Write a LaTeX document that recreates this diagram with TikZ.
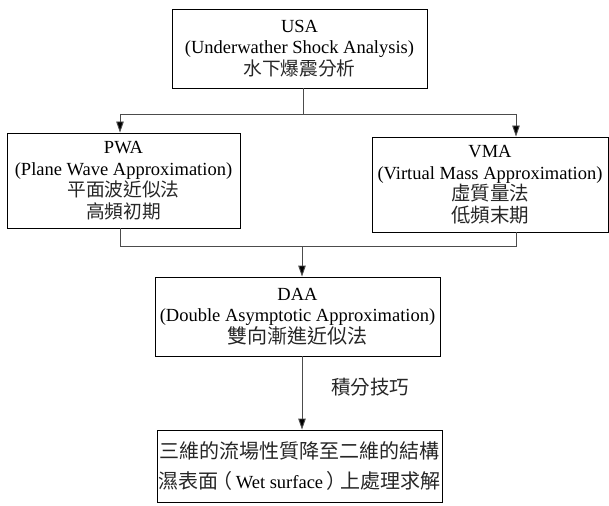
\documentclass[tikz,border=0pt]{standalone}
\usepackage{fontspec}
\setmainfont{Liberation Serif}
\newfontfamily\cjk{Noto Sans CJK TC}
\usetikzlibrary{arrows.meta}
\tikzset{
  box/.style={draw=black, line width=0.9pt, align=center, inner sep=0pt,
    font=\fontsize{18.5}{21.5}\selectfont},
  link/.style={draw=black!70, line width=0.9pt},
  arr/.style={link, -{Triangle[length=11pt, width=7.5pt, fill=black]}},
  note/.style={font=\fontsize{18.5}{21.5}\selectfont}
}
% Chinese text, optionally at a given size
\newcommand{\zh}[2][19]{{\cjk\fontsize{#1}{21.5}\selectfont\color{black!85}#2}}
\begin{document}
\begin{tikzpicture}[x=1pt, y=-1pt]
  \useasboundingbox (0,0) rectangle (609,505);

  % boxes
  \node[box, minimum width=255pt, minimum height=79pt] (usa) at (299.5,48.5)
    {USA\\(Underwather Shock Analysis)\\\zh[18.7]{水下爆震分析}};
  \node[box, minimum width=233pt, minimum height=95pt] (pwa) at (123.5,180.5)
    {PWA\\(Plane Wave Approximation)\\\zh[18.7]{平面波近似法}\\\zh[18.7]{高頻初期}};
  \node[box, minimum width=236pt, minimum height=95pt] (vma) at (490,184.5)
    {VMA\\(Virtual Mass Approximation)\\\zh[19.5]{虛質量法}\\\zh[19.5]{低頻末期}};
  \node[box, minimum width=285pt, minimum height=79pt] (daa) at (297.5,316.5)
    {DAA\\(Double Asymptotic Approximation)\\\zh[20]{雙向漸進近似法}};
  \node[box, minimum width=285pt, minimum height=72pt] (res) at (299.5,466)
    {\zh[20]{三維的流場性質降至二維的結構}\\[8pt]
     \zh[20]{濕表面\kern-6pt（}\kern3pt Wet surface\kern3pt\zh[20]{）\kern-6pt上處理求解}};

  % junction points
  \coordinate (ja) at (303,114);
  \coordinate (al) at (120,114);
  \coordinate (ar) at (516,114);
  \coordinate (jb) at (302,246);
  \coordinate (bl) at (120,246);
  \coordinate (br) at (516,246);

  % split from USA
  \draw[link] (usa.south -| ja) -- (ja);
  \draw[link] (al) -- (ar);
  \draw[arr] (al) -- (al |- pwa.north);
  \draw[arr] (ar) -- (ar |- vma.north);

  % merge into DAA
  \draw[link] (pwa.south -| bl) -- (bl) -- (br) -- (vma.south -| br);
  \draw[arr] (jb) -- (jb |- daa.north);

  % DAA to result
  \draw[arr] (daa.south -| jb) -- (jb |- res.north);
  \node[note] (tech) at (370,387) {\zh[19.5]{積分技巧}};
\end{tikzpicture}
\end{document}
